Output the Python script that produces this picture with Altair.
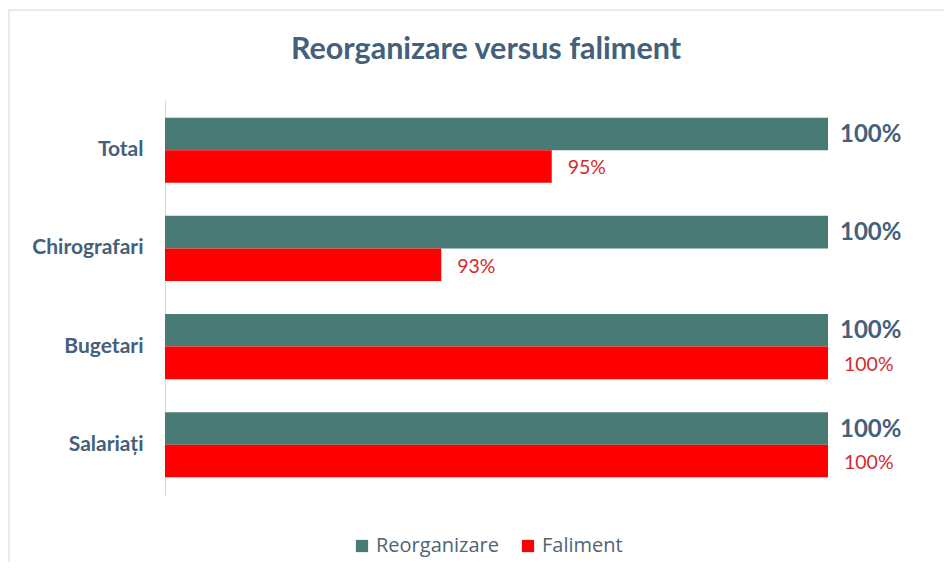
import altair as alt
import pandas as pd

categories = ["Total", "Chirografari", "Bugetari", "Salariați"]
series = ["Reorganizare", "Faliment"]
reorganizare = [100, 100, 100, 100]
faliment = [95, 93, 100, 100]
title_text = "Reorganizare versus faliment"

rows = []
for i, c in enumerate(categories):
    rows.append({"cat": c, "series": "Reorganizare", "value": reorganizare[i], "label": f"{reorganizare[i]}%"})
    rows.append({"cat": c, "series": "Faliment", "value": faliment[i], "label": f"{faliment[i]}%"})
df = pd.DataFrame(rows)

FONT = "Lato, Open Sans, sans-serif"
LEGFONT = "Open Sans, Lato, sans-serif"
TEXT = "#44607A"
TEAL = "#4A7A75"
RED = "#FF0000"

W, H = 663, 395

y_enc = alt.Y("cat:N", sort=categories, title=None,
              scale=alt.Scale(paddingInner=0.337, paddingOuter=0.18),
              axis=alt.Axis(labelFont=FONT, labelFontSize=21, labelFontWeight="bold",
                            labelColor=TEXT, labelPadding=22, ticks=False,
                            domainColor="#D9D9D9", domainWidth=1))
yoff = alt.YOffset("series:N", sort=series, scale=alt.Scale(domain=series, paddingInner=0, paddingOuter=0))
x_enc = alt.X("value:Q", scale=alt.Scale(domain=[88, 100], clamp=True, zero=False, nice=False), axis=None)

base = alt.Chart(df).encode(y=y_enc, yOffset=yoff, x=x_enc)

bars = base.mark_bar().encode(
    color=alt.Color("series:N", sort=series,
                    scale=alt.Scale(domain=series, range=[TEAL, RED]),
                    legend=alt.Legend(title=None, orient="none", direction="horizontal",
                                      legendX=187, legendY=436,
                                      labelFont=LEGFONT, labelFontSize=20, labelColor="#4F6475",
                                      symbolType="square", symbolSize=150, symbolStrokeWidth=0,
                                      columnPadding=19, labelOffset=4))
)

lab_reorg = base.transform_filter(alt.datum.series == "Reorganizare").mark_text(
    align="left", baseline="middle", dx=12, dy=1, font=FONT, fontSize=24, fontWeight="bold", color=TEXT
).encode(text="label:N")

lab_fal = base.transform_filter(alt.datum.series == "Faliment").mark_text(
    align="left", baseline="middle", dx=16, dy=2, font=FONT, fontSize=19.5, color="#D42A2A"
).encode(text="label:N")

border = alt.Chart(pd.DataFrame({"a": [0]})).mark_rect(
    fill=None, stroke="#DCE6EE", strokeWidth=1.5
).encode(x=alt.value(-156), x2=alt.value(W + 130), y=alt.value(-90), y2=alt.value(H + 120))

title = alt.Chart(pd.DataFrame({"t": [title_text]})).mark_text(
    font=FONT, fontSize=30.5, fontWeight="bold", color=TEXT, align="center", baseline="middle"
).encode(text="t:N", x=alt.value(321), y=alt.value(-50))

chart = alt.layer(border, title, bars, lab_reorg, lab_fal).properties(
    width=W, height=H,
    padding={"left": 157, "top": 92, "right": 116, "bottom": 67},
    autosize=alt.AutoSizeParams(type="none"),
).configure(background="white").configure_view(stroke=None)

chart.save("out.html", embed_options={"renderer": "svg", "actions": False})
